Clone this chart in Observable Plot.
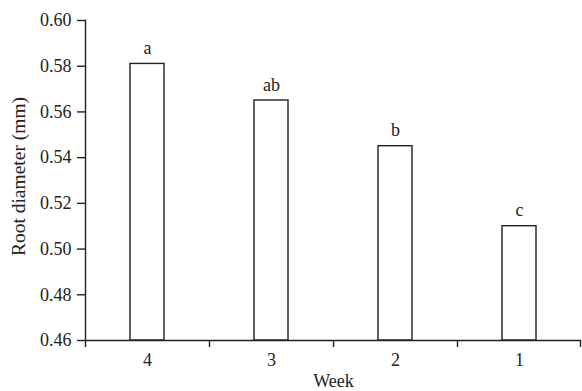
<!DOCTYPE html>
<html>
<head>
<meta charset="utf-8">
<script src="https://cdn.jsdelivr.net/npm/d3@7"></script>
<script src="https://cdn.jsdelivr.net/npm/@observablehq/plot@0.6"></script>
<style>
  html, body { margin: 0; padding: 0; background: #fff; }
</style>
</head>
<body>
<div id="chart"></div>
<script>
const weeks = ["4", "3", "2", "1"];
const diameters = [0.581, 0.565, 0.545, 0.510];
const letters = ["a", "ab", "b", "c"];
const yTicks = [0.46, 0.48, 0.50, 0.52, 0.54, 0.56, 0.58, 0.60];
const xLabel = "Week";
const yLabel = "Root diameter (mm)";

const data = weeks.map((w, i) => ({week: w, value: diameters[i], letter: letters[i]}));

const W = 582, H = 391;
const mL = 85, mR = 1, mT = 20, mB = 51;
const step = (W - mL - mR) / weeks.length;
const ink = "#222";

const plot = Plot.plot({
  width: W,
  height: H,
  marginLeft: mL,
  marginRight: mR,
  marginTop: mT,
  marginBottom: mB,
  style: {fontFamily: "'Liberation Serif', 'Times New Roman', serif", fontSize: "18px", color: ink, background: "#fff"},
  x: {domain: weeks, paddingInner: 0.726, paddingOuter: 0.363, align: 0.5, axis: null},
  y: {domain: [0.46, 0.60], axis: null},
  marks: [
    Plot.barY(data, {x: "week", y1: 0.46, y2: "value", fill: "white", stroke: ink, strokeWidth: 1.4}),
    Plot.text(data, {x: "week", y: "value", text: "letter", dy: -10, lineAnchor: "bottom", fill: ink}),
    Plot.ruleY([0.46], {stroke: ink, strokeWidth: 1.4}),
    Plot.frame({anchor: "left", stroke: ink, strokeWidth: 1.4}),
    Plot.axisY({ticks: yTicks, tickSize: 8, tickPadding: 6, tickFormat: d3.format(".2f"), label: null, strokeWidth: 1.4}),
    Plot.axisX({tickSize: 0, tickPadding: 13, label: null}),
    Plot.axisX({tickSize: 7, tickFormat: () => "", dx: -step / 2, label: null, strokeWidth: 1.4}),
    Plot.axisX({ticks: [weeks[weeks.length - 1]], tickSize: 7, tickFormat: () => "", dx: step / 2 - 1, label: null, strokeWidth: 1.4}),
    Plot.text([xLabel], {frameAnchor: "bottom", dy: 46, lineAnchor: "bottom", fill: ink}),
    Plot.text([yLabel], {frameAnchor: "left", dx: -67, dy: -4, rotate: -90, textAnchor: "middle", lineAnchor: "middle", fill: ink, fontSize: 19.5})
  ]
});
document.getElementById("chart").appendChild(plot);
</script>
</body>
</html>
